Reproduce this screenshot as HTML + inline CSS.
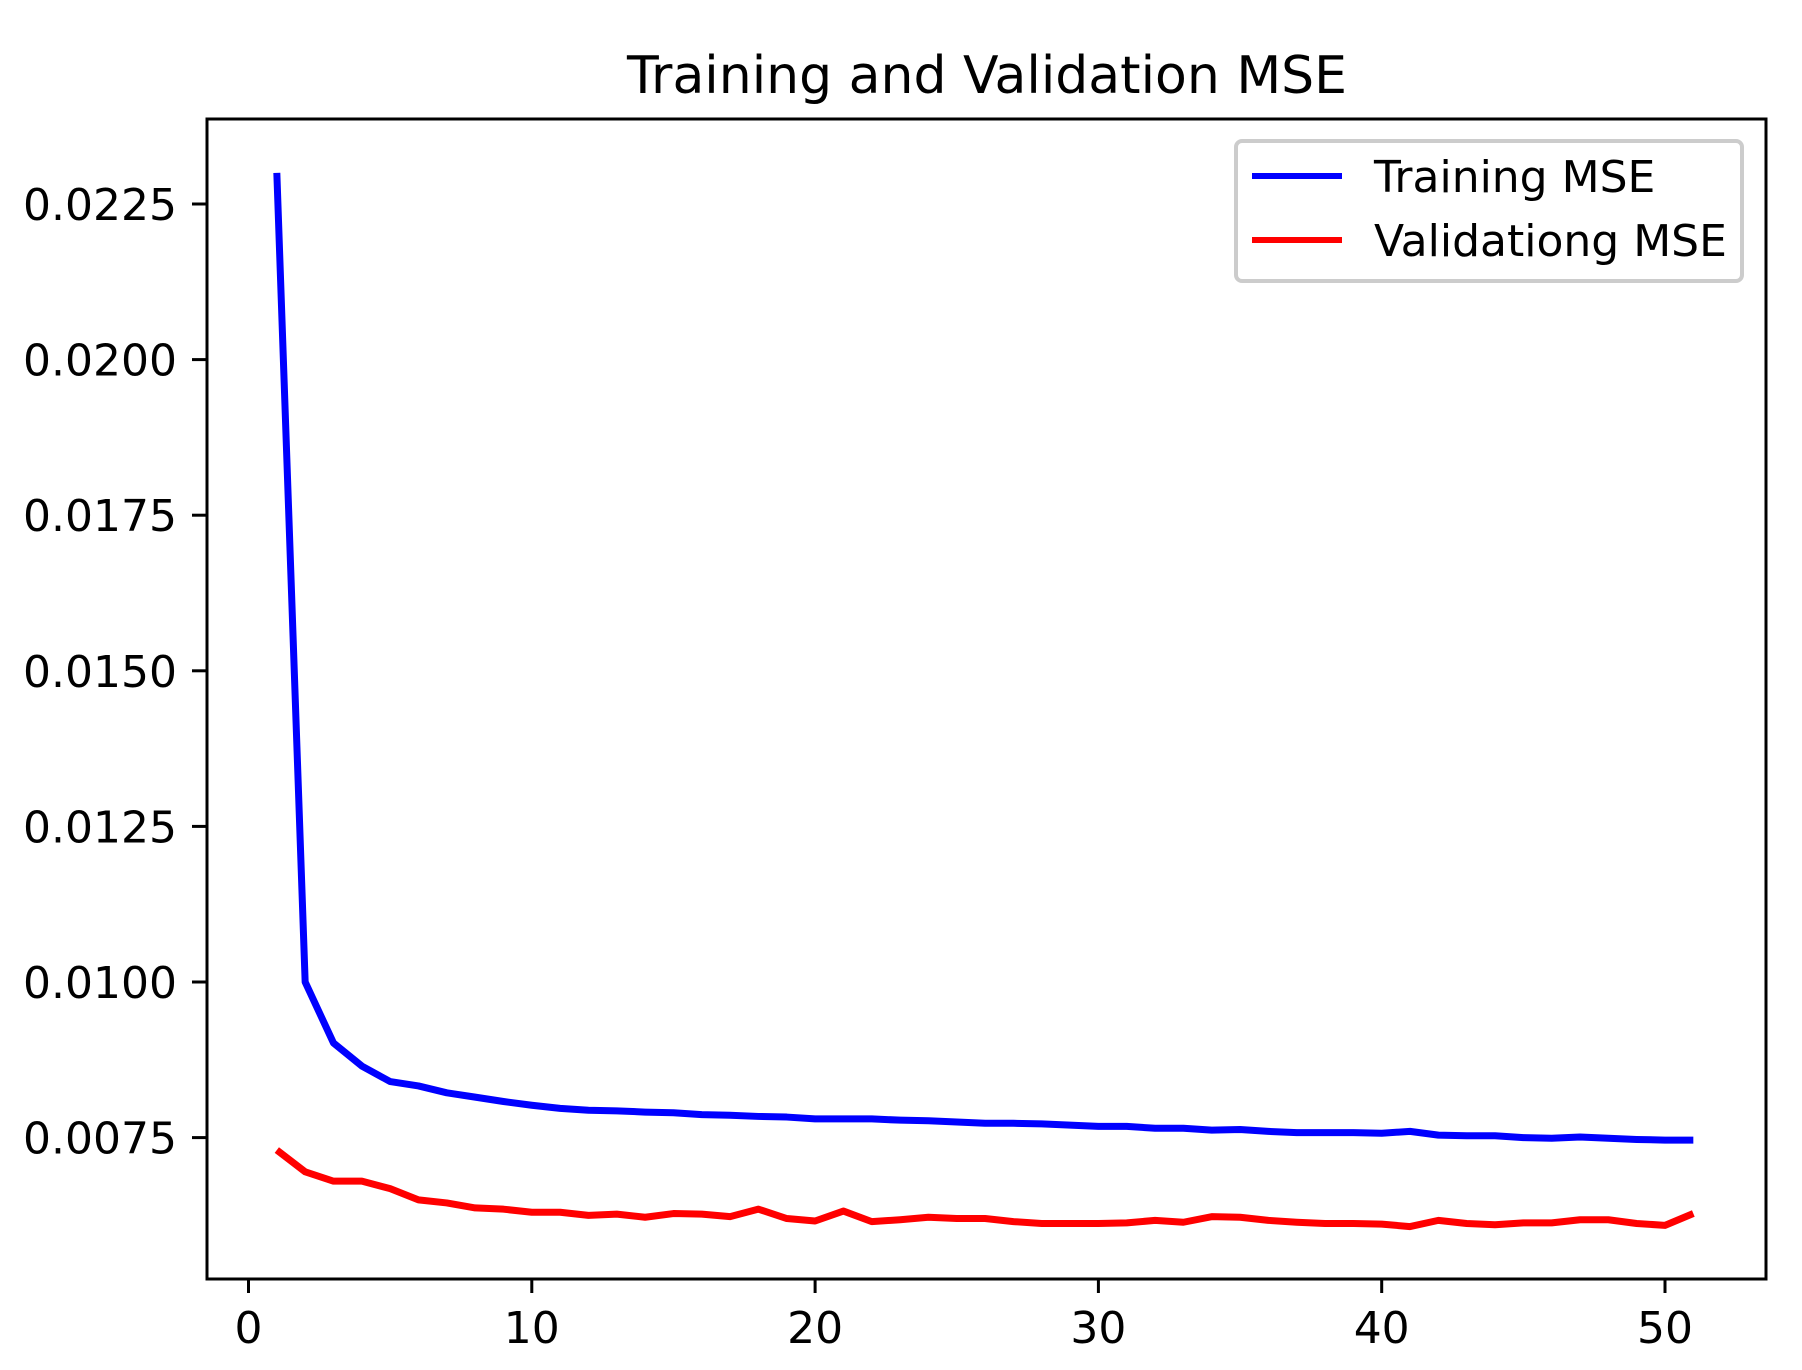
<!DOCTYPE html>
<html><head><meta charset="utf-8"><style>
html,body{margin:0;padding:0;background:#fff;}
svg{display:block;font-family:"DejaVu Sans","Liberation Sans",sans-serif;}
</style></head><body>
<svg id="chart" width="1802" height="1370" viewBox="0 0 1802 1370">
<rect x="0" y="0" width="1802" height="1370" fill="#fff"/>
<text x="987" y="93" font-size="52" text-anchor="middle">Training and Validation MSE</text>
<g id="ticks"></g>
<g id="lines"></g>
<rect x="207" y="119" width="1559" height="1160" fill="none" stroke="#000" stroke-width="3"/>
<g>
<rect x="1236" y="141" width="506" height="140" rx="6" fill="#fff" fill-opacity="0.8" stroke="#ccc" stroke-width="4"/>
<line x1="1252" y1="176" x2="1342" y2="176" stroke="#0000ff" stroke-width="6"/>
<text x="1374" y="192" font-size="44">Training MSE</text>
<line x1="1252" y1="240" x2="1342" y2="240" stroke="#ff0000" stroke-width="6"/>
<text x="1374" y="256" font-size="44">Validationg MSE</text>
</g>
</svg>
<script>
const epochs = Array.from({length:51},(_,i)=>i+1);
const trainMSE = [0.0230,0.0100,0.00902,0.00865,0.0084,0.00833,0.00822,0.00815,0.00808,0.00802,
0.00797,0.00794,0.00793,0.00791,0.0079,0.00787,0.00786,0.00784,0.00783,0.0078,
0.0078,0.0078,0.00778,0.00777,0.00775,0.00773,0.00773,0.00772,0.0077,0.00768,
0.00768,0.00765,0.00765,0.00762,0.00763,0.0076,0.00758,0.00758,0.00758,0.00757,
0.0076,0.00754,0.00753,0.00753,0.0075,0.00749,0.00751,0.00749,0.00747,0.00746,0.00746];
const valMSE = [0.0073,0.00695,0.0068,0.0068,0.00668,0.0065,0.00645,0.00637,0.00635,0.0063,
0.0063,0.00625,0.00627,0.00622,0.00628,0.00627,0.00623,0.00635,0.0062,0.00616,
0.00632,0.00615,0.00618,0.00622,0.0062,0.0062,0.00615,0.00612,0.00612,0.00612,
0.00613,0.00617,0.00614,0.00623,0.00622,0.00617,0.00614,0.00612,0.00612,0.00611,
0.00607,0.00617,0.00612,0.0061,0.00613,0.00613,0.00618,0.00618,0.00612,0.00609,0.00628];
const xTicks = [0,10,20,30,40,50];
const yTicks = [0.0075,0.0100,0.0125,0.0150,0.0175,0.0200,0.0225];
const yTickLabels = ["0.0075","0.0100","0.0125","0.0150","0.0175","0.0200","0.0225"];

const NS="http://www.w3.org/2000/svg";
function xs(v){return 248.5+v*(1665-248.5)/50;}
function ys(v){return 204+(0.0225-v)/0.0025*155.6;}
const tg=document.getElementById('ticks');
xTicks.forEach(t=>{
  const l=document.createElementNS(NS,'line');
  l.setAttribute('x1',xs(t));l.setAttribute('x2',xs(t));l.setAttribute('y1',1279);l.setAttribute('y2',1293);
  l.setAttribute('stroke','#000');l.setAttribute('stroke-width',3);
  
  
  tg.appendChild(l);
  const tx=document.createElementNS(NS,'text');
  tx.setAttribute('x',xs(t));tx.setAttribute('y',1343);tx.setAttribute('font-size',44);tx.setAttribute('text-anchor','middle');
  tx.textContent=t;
  
  
  tg.appendChild(tx);
});
yTicks.forEach((t,i)=>{
  const l=document.createElementNS(NS,'line');
  l.setAttribute('x1',192);l.setAttribute('x2',207);l.setAttribute('y1',ys(t));l.setAttribute('y2',ys(t));
  l.setAttribute('stroke','#000');l.setAttribute('stroke-width',3);
  
  
  tg.appendChild(l);
  const tx=document.createElementNS(NS,'text');
  tx.setAttribute('x',177);tx.setAttribute('y',ys(t)+16);tx.setAttribute('font-size',44);tx.setAttribute('text-anchor','end');
  tx.textContent=yTickLabels[i];
  
  
  tg.appendChild(tx);
});
const lg=document.getElementById('lines');
function drawLine(vals,color,name){
  const p=document.createElementNS(NS,'polyline');
  p.setAttribute('points',vals.map((v,i)=>xs(epochs[i])+','+ys(v)).join(' '));
  p.setAttribute('fill','none');p.setAttribute('stroke',color);p.setAttribute('stroke-width',7);
  p.setAttribute('stroke-linejoin','round');
  
  
  lg.appendChild(p);
}
drawLine(trainMSE,'#0000ff','training-mse-line');
drawLine(valMSE,'#ff0000','validation-mse-line');
</script>
</body></html>
